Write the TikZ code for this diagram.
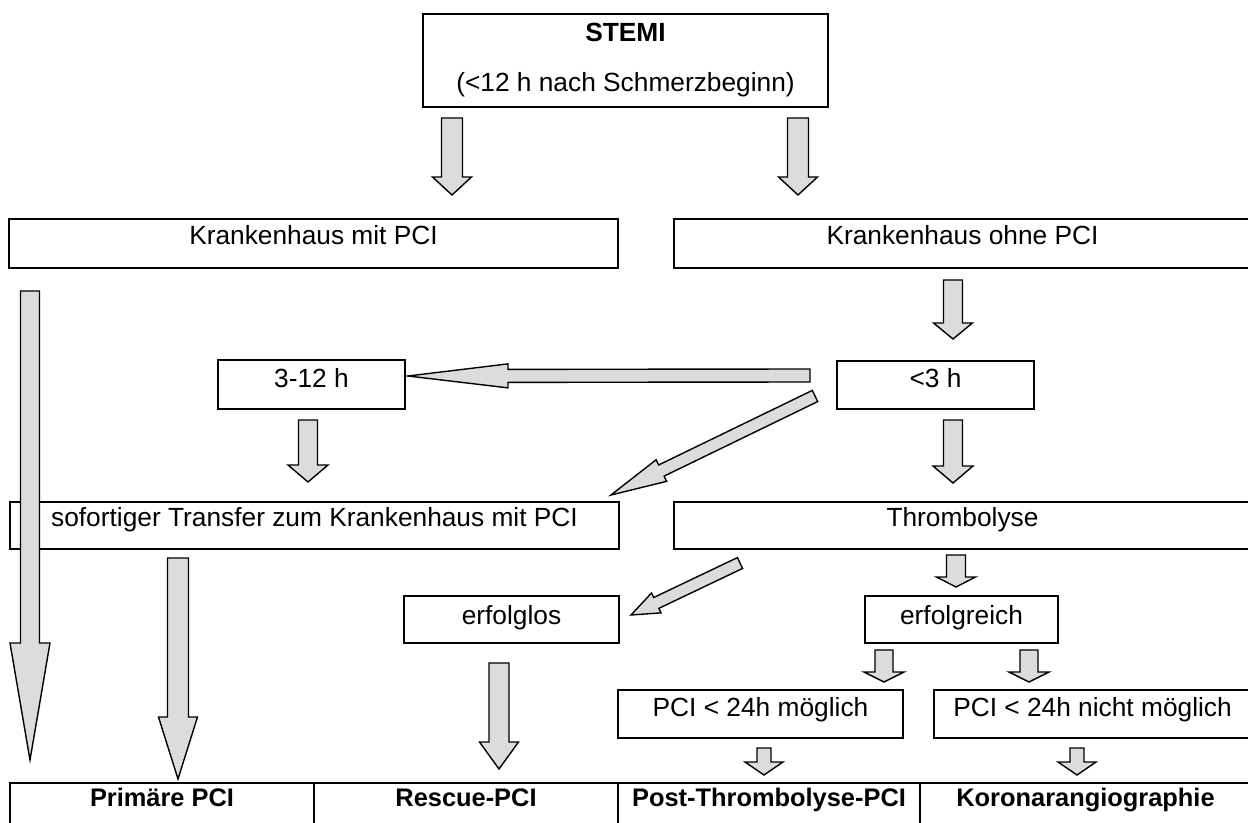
\documentclass[tikz,border=0pt]{standalone}
\usepackage{fontspec}
\setmainfont{Liberation Sans}
\usetikzlibrary{calc}
\definecolor{arrgray}{HTML}{DCDCDC}
\newcommand{\barrow}[5]{%
  \coordinate (bh) at ($(#2)!#5!(#1)$);
  \filldraw[barr] ($(#1)!#3!90:(#2)$) -- ($(bh)!#3!90:(#2)$) -- ($(bh)!#4!90:(#2)$) -- (#2)
    -- ($(bh)!#4!-90:(#2)$) -- ($(bh)!#3!-90:(#2)$) -- ($(#1)!#3!-90:(#2)$) -- cycle;
}
\begin{document}
\begin{tikzpicture}[x=0.5pt,y=-0.5pt,
  bx/.style={draw, line width=1pt, inner sep=0pt, anchor=north west,
    font=\fontsize{13.15pt}{16pt}\selectfont},
  bxb/.style={bx, font=\fontsize{12.7pt}{16pt}\selectfont\bfseries},
  barr/.style={fill=arrgray, draw=black, line width=0.7pt, line join=miter}]
\useasboundingbox (0,0) rectangle (1248,823);
\fill[white] (0,0) rectangle (1248,823);
% boxes
\node[bx, minimum width=202.5pt, minimum height=46.5pt, align=center,
  font=\fontsize{13.15pt}{25pt}\selectfont] (stemi) at (422,13)
  {\textbf{STEMI}\\(<12 h nach Schmerzbeginn)};
\node[bx, minimum width=304.5pt, text height=13pt, text depth=11.5pt] (kmit) at (8,218) {Krankenhaus mit PCI};
\node[bx, minimum width=288.5pt, text height=13pt, text depth=11.5pt] (kohne) at (673,218) {Krankenhaus ohne PCI};
\node[bx, minimum width=93.5pt, text height=14pt, text depth=10.5pt] (d312) at (217,359) {3-12 h};
\node[bx, minimum width=98.5pt, text height=13.5pt, text depth=10.5pt] (d3) at (836,360) {<3 h};
\node[bx, minimum width=304.5pt, text height=12.5pt, text depth=11pt] (transfer) at (9,501) {sofortiger Transfer zum Krankenhaus mit PCI};
\node[bx, minimum width=288.5pt, text height=12.5pt, text depth=11pt] (thromb) at (673,501) {Thrombolyse};
\node[bx, minimum width=107.5pt, text height=14pt, text depth=9.5pt] (erfolglos) at (403,595) {erfolglos};
\node[bx, minimum width=96.5pt, text height=14pt, text depth=9.5pt] (erfolgreich) at (864,595) {erfolgreich};
\node[bx, minimum width=142.5pt, text height=13pt, text depth=11pt] (pcim) at (617,689) {PCI < 24h möglich};
\node[bx, minimum width=158.5pt, text height=13pt, text depth=11pt] (pcin) at (933,689) {PCI < 24h nicht möglich};
\node[bxb, minimum width=152pt, text height=11.5pt, text depth=22.5pt] (c1) at (9,782) {Primäre PCI};
\node[bxb, minimum width=152pt, text height=11.5pt, text depth=22.5pt] (c2) at (313,782) {Rescue-PCI};
\node[bxb, minimum width=151pt, text height=11.5pt, text depth=22.5pt] (c3) at (617,782) {Post-Thrombolyse-PCI};
\node[bxb, minimum width=165.5pt, text height=11.5pt, text depth=22.5pt] (c4) at (919,782) {Koronarangiographie};
% arrow end points
\coordinate (a1s) at (452,118); \coordinate (a1e) at (452,195);
\coordinate (a2s) at (798,118); \coordinate (a2e) at (798,195);
\coordinate (a3s) at (30,291);  \coordinate (a3e) at (30,760);
\coordinate (a4s) at (953,280); \coordinate (a4e) at (953,339);
\coordinate (a5s) at (810,375.5); \coordinate (a5e) at (408,376);
\coordinate (a6s) at (815,396); \coordinate (a6e) at (611,495);
\coordinate (a7s) at (308,420); \coordinate (a7e) at (308,482);
\coordinate (a8s) at (953,420); \coordinate (a8e) at (953,483);
\coordinate (a9s) at (178,558); \coordinate (a9e) at (178,779);
\coordinate (a10s) at (740,563); \coordinate (a10e) at (631,615);
\coordinate (a11s) at (956,555); \coordinate (a11e) at (956,587);
\coordinate (a12s) at (499,663); \coordinate (a12e) at (499,769);
\coordinate (a13s) at (884,650); \coordinate (a13e) at (884,682);
\coordinate (a14s) at (1029,650); \coordinate (a14e) at (1029,682);
\coordinate (a15s) at (764,748); \coordinate (a15e) at (764,775);
\coordinate (a16s) at (1077,748); \coordinate (a16e) at (1077,775);
% arrows
\barrow{a1s}{a1e}{5.25pt}{9.75pt}{9pt}
\barrow{a2s}{a2e}{5.25pt}{9.75pt}{9pt}
\barrow{a3s}{a3e}{4.75pt}{10pt}{58.5pt}
\barrow{a4s}{a4e}{4.75pt}{9.75pt}{8pt}
\barrow{a5s}{a5e}{3.25pt}{6pt}{50pt}
\barrow{a6s}{a6e}{3.1pt}{6pt}{28pt}
\barrow{a7s}{a7e}{4.75pt}{10pt}{8.5pt}
\barrow{a8s}{a8e}{4.75pt}{10pt}{8.5pt}
\barrow{a9s}{a9e}{5.25pt}{9.75pt}{31pt}
\barrow{a10s}{a10e}{3pt}{5.5pt}{14pt}
\barrow{a11s}{a11e}{4.75pt}{9.75pt}{5pt}
\barrow{a12s}{a12e}{5pt}{9.75pt}{13.5pt}
\barrow{a13s}{a13e}{4.5pt}{10pt}{5pt}
\barrow{a14s}{a14e}{4.5pt}{10pt}{5pt}
\barrow{a15s}{a15e}{3.5pt}{9.5pt}{6.5pt}
\barrow{a16s}{a16e}{3.5pt}{9.5pt}{6.5pt}
\end{tikzpicture}
\end{document}
